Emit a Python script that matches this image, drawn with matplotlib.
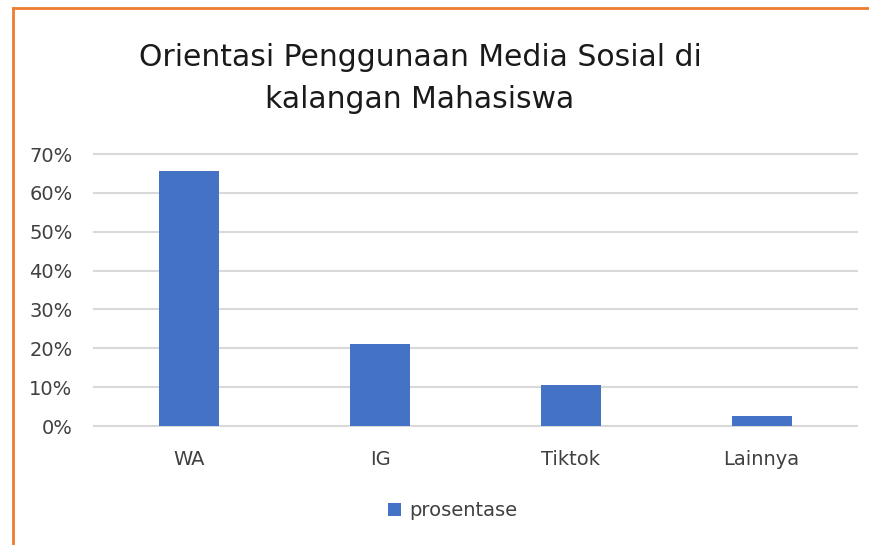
import matplotlib
matplotlib.use("Agg")
import matplotlib.pyplot as plt
from matplotlib.lines import Line2D
from matplotlib.ticker import PercentFormatter

categories = ["WA", "IG", "Tiktok", "Lainnya"]
prosentase = [0.656, 0.210, 0.105, 0.026]
yticks = [0, 0.1, 0.2, 0.3, 0.4, 0.5, 0.6, 0.7]
title = "Orientasi Penggunaan Media Sosial di\nkalangan Mahasiswa"
series_name = "prosentase"

plt.rcParams['font.family'] = ['DejaVu Sans']
text_color = "#404040"
bar_color = "#4472C4"

fig = plt.figure(figsize=(8.7, 5.45), dpi=100)
ax = fig.add_axes([94/870, 1-426/545, (857-94)/870, (426-154)/545])

x = range(len(categories))
bars = ax.bar(x, prosentase, width=0.315, color=bar_color, label=series_name, zorder=3)
ax.set_xlim(-0.5, len(categories)-0.5)
ax.set_ylim(0, 0.7)
ax.set_yticks(yticks)
ax.yaxis.set_major_formatter(PercentFormatter(1.0, decimals=0))
ax.set_xticks(list(x))
ax.set_xticklabels(categories)
ax.grid(axis='y', color="#d9d9d9", linewidth=1.5, zorder=0)
for gl in ax.get_ygridlines():
    gl.set_clip_on(False)
ax.set_axisbelow(True)
for s in ax.spines.values():
    s.set_visible(False)
ax.tick_params(axis='both', length=0, labelsize=14, labelcolor=text_color)
ax.tick_params(axis='x', pad=17)
ax.tick_params(axis='y', pad=15.5)

fig.text(420/870, 1-78.5/545, title, ha='center', va='center', fontsize=21.5,
         color="#1a1a1a", linespacing=1.55)

fig.legend(handles=[bars], labels=[series_name], loc='center', bbox_to_anchor=(453/870, 1-511/545),
           frameon=False, fontsize=14, labelcolor=text_color, handlelength=0.65, handleheight=0.65,
           handletextpad=0.45)

# orange frame (top and left)
fig.add_artist(Line2D([13/870, 1.0], [1-8/545, 1-8/545], color="#ED7D31", linewidth=2, transform=fig.transFigure))
fig.add_artist(Line2D([13/870, 13/870], [0, 1-8/545], color="#ED7D31", linewidth=2, transform=fig.transFigure))

fig.savefig("out.png", dpi=100)
